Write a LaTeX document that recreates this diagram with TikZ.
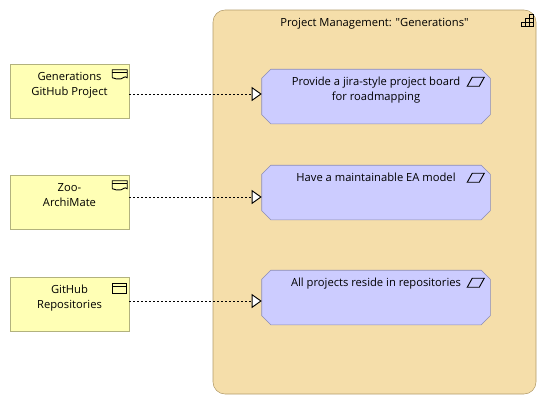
\documentclass[tikz,border=0pt]{standalone}
\usepackage{fontspec}
\newfontfamily\amfont{Open Sans}
\definecolor{amyellow}{RGB}{255,255,181}
\definecolor{amyellowline}{RGB}{178,178,126}
\definecolor{amgroup}{RGB}{245,222,170}
\definecolor{amgroupline}{RGB}{178,155,105}
\definecolor{amgoal}{RGB}{204,204,255}
\definecolor{amgoalline}{RGB}{142,142,178}
\usetikzlibrary{arrows.meta,positioning}

\begin{document}
\begin{tikzpicture}[
  x=0.75pt,y=-0.75pt,
  ambox/.style={draw=amyellowline,fill=amyellow,minimum width=89.25pt,minimum height=40.5pt,inner sep=0pt},
  amgoalbox/.style={minimum width=171pt,minimum height=40.5pt,inner sep=0pt},
  amgoalline/.style={draw=amgoalline,fill=amgoal},
  amgroupbox/.style={draw=amgroupline,fill=amgroup,rounded corners=9pt,minimum width=242.25pt,minimum height=288pt,inner sep=0pt},
  amtext/.style={align=center,font=\amfont\fontsize{8.4}{11.25}\selectfont,inner sep=0pt,text=black},
  amrel/.style={dash pattern=on 1.5pt off 1.5pt,-{Triangle[open,fill=white,length=7.5pt,width=10.5pt]},black,line width=0.7pt},
  amicon/.style={draw=black,line width=0.7pt,fill=none}
]
  \useasboundingbox (0,0) rectangle (547,405);
  % group
  \node[amgroupbox] (group) at (374.5,202) {};
  \node[amtext,below=6.5pt of group.north] (grouptext) {Project Management: "Generations"};
  \foreach \cx/\cy in {0/0,1/0,2/0,1/1,2/1,2/2}
    \draw[amicon] ([shift={(-15+\cx*4,13-\cy*4)}]group.north east) rectangle ++(4,4);
  % sources
  \node[ambox] (project) at (69.5,91) {};
  \node[amtext,below=6pt of project.north] (projecttext) {Generations\\GitHub Project};
  \node[ambox] (zoo) at (69.5,202) {};
  \node[amtext,below=6pt of zoo.north] (zootext) {Zoo-\\ArchiMate};
  \node[ambox] (repos) at (69.5,304) {};
  \node[amtext,below=6pt of repos.north] (repostext) {GitHub\\Repositories};
  % goals
  \node[amgoalbox] (board) at (376,96.5) {};
  \node[amgoalbox] (model) at (376,192.5) {};
  \node[amgoalbox] (reside) at (376,297.5) {};
  \foreach \n in {board,model,reside}
    \draw[amgoalline] ([shift={(9,0)}]\n.north west) -- ([shift={(-9,0)}]\n.north east)
      -- ([shift={(0,9)}]\n.north east) -- ([shift={(0,-9)}]\n.south east)
      -- ([shift={(-9,0)}]\n.south east) -- ([shift={(9,0)}]\n.south west)
      -- ([shift={(0,-9)}]\n.south west) -- ([shift={(0,9)}]\n.north west) -- cycle;
  \node[amtext,below=5.6pt of board.north] (boardtext) {Provide a jira-style project board\\for roadmapping};
  \node[amtext,below=5.6pt of model.north] (modeltext) {Have a maintainable EA model};
  \node[amtext,below=5.6pt of reside.north] (residetext) {All projects reside in repositories};
  % deliverable icons
  \foreach \n in {project,zoo}{
    \draw[amicon] ([shift={(-17,14)}]\n.north east) -- ++(0,-8) -- ++(15,0) -- ++(0,8)
      .. controls ++(-3,-2) and ++(3,-1) .. ++(-6,1) .. controls ++(-3,1) and ++(3,1) .. ++(-9,-1);
    \draw[amicon] ([shift={(-17,9)}]\n.north east) -- ++(15,0);
  }
  % object icon
  \draw[amicon] ([shift={(-17,7)}]repos.north east) rectangle ++(14,9.5);
  \draw[amicon] ([shift={(-17,10)}]repos.north east) -- ++(14,0);
  % goal icons
  \foreach \n in {board,model,reside}
    \draw[amicon] ([shift={(-23,17)}]\n.north east) -- ++(5,-9) -- ++(12,0) -- ++(-5,9) -- cycle;
  % relations
  \draw[amrel] ([shift={(0,3)}]project.east) -- ([shift={(0,-2.5)}]board.west);
  \draw[amrel] ([shift={(0,-5)}]zoo.east) -- ([shift={(0,4.5)}]model.west);
  \draw[amrel] ([shift={(0,-3)}]repos.east) -- ([shift={(0,3.5)}]reside.west);
\end{tikzpicture}
\end{document}
